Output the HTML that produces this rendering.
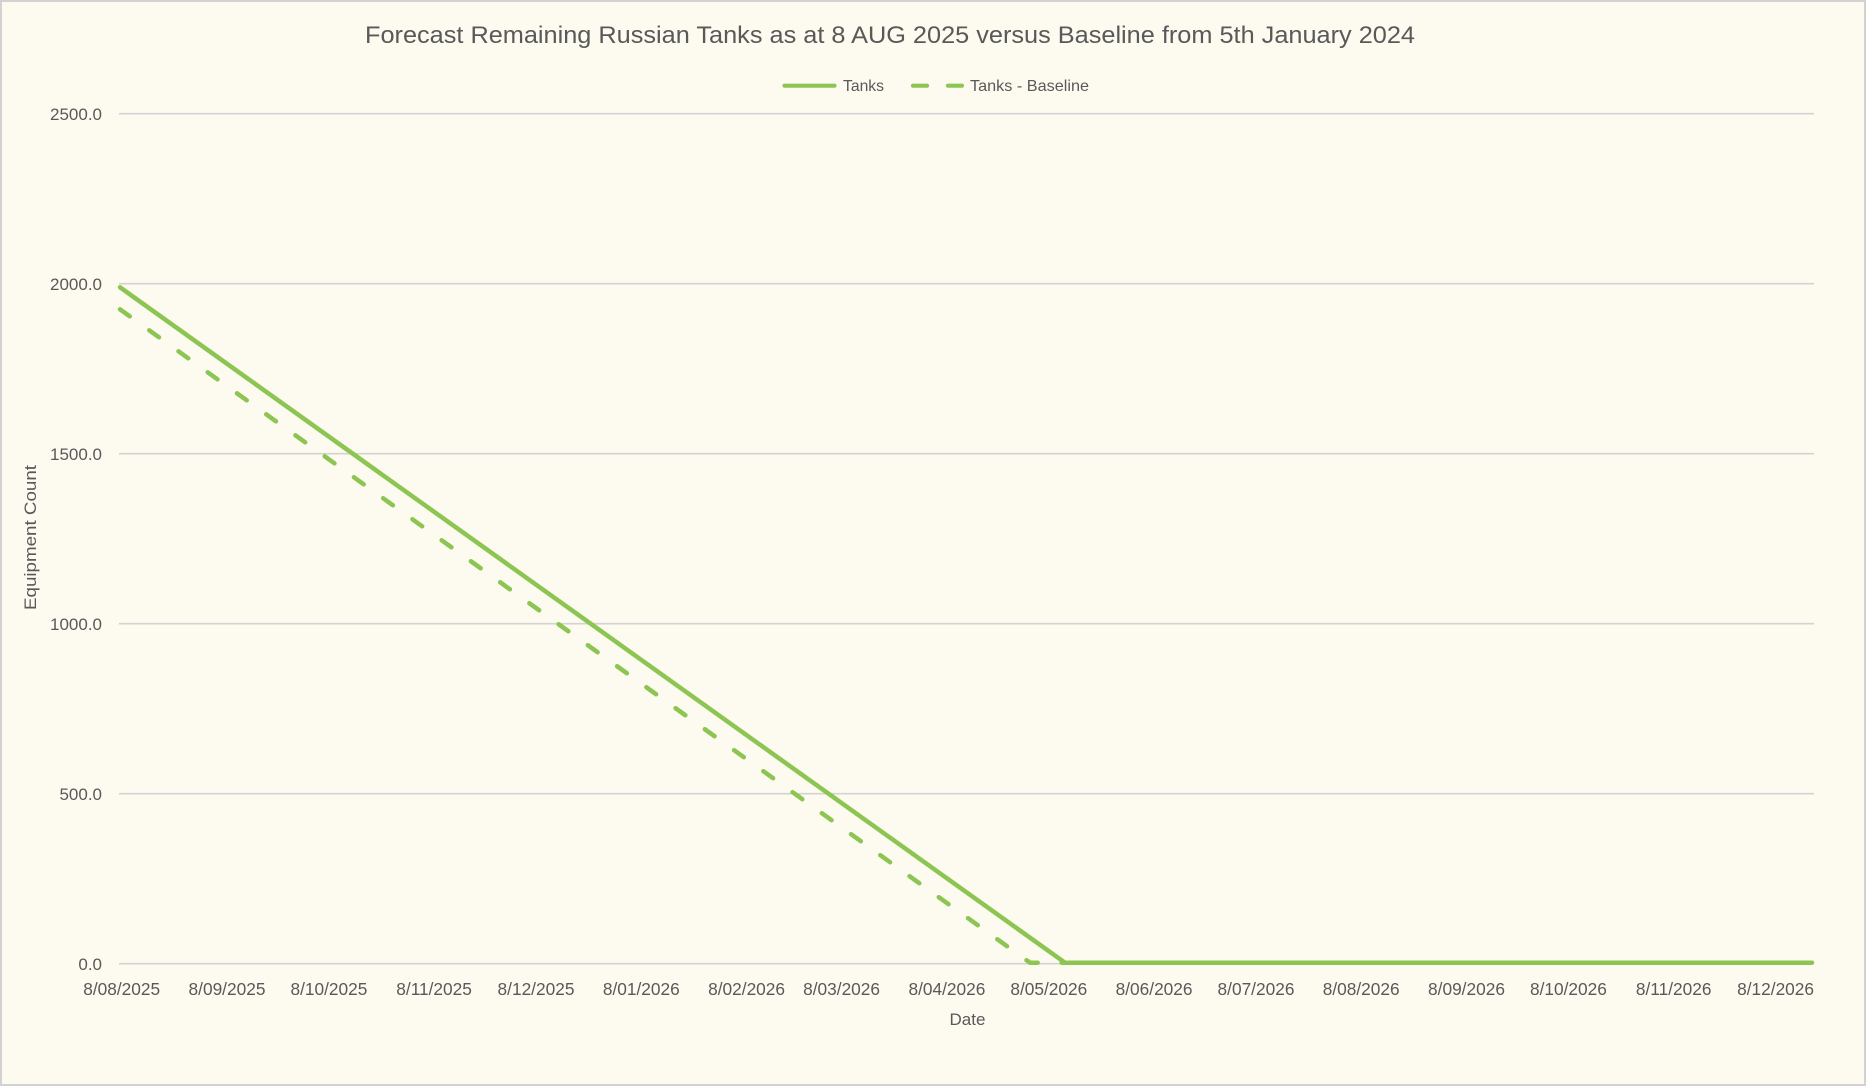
<!DOCTYPE html>
<html>
<head>
<meta charset="utf-8">
<style>
  html, body { margin: 0; padding: 0; background: #FDFAF0; }
  svg { display: block; }
  text { font-family: "Liberation Sans", Arial, sans-serif; fill: #595959; }
</style>
</head>
<body>
<svg width="1866" height="1086" viewBox="0 0 1866 1086" xmlns="http://www.w3.org/2000/svg">
  <rect x="0" y="0" width="1866" height="1086" fill="#FDFAF0"/>
  <rect x="1" y="1" width="1864" height="1084" fill="none" stroke="#D2D2D2" stroke-width="2"/>

  <!-- Title -->
  <text x="365" y="43" font-size="24" textLength="1050" lengthAdjust="spacingAndGlyphs">Forecast Remaining Russian Tanks as at 8 AUG 2025 versus Baseline from 5th January 2024</text>

  <!-- Legend -->
  <line x1="784.5" y1="85.7" x2="834.5" y2="85.7" stroke="#8DC553" stroke-width="4.2" stroke-linecap="round"/>
  <text x="843" y="91" font-size="16" textLength="41" lengthAdjust="spacingAndGlyphs">Tanks</text>
  <line x1="913" y1="85.7" x2="927" y2="85.7" stroke="#8DC553" stroke-width="4.2" stroke-linecap="round"/>
  <line x1="948" y1="85.7" x2="962" y2="85.7" stroke="#8DC553" stroke-width="4.2" stroke-linecap="round"/>
  <text x="970" y="91" font-size="16" textLength="119" lengthAdjust="spacingAndGlyphs">Tanks - Baseline</text>

  <!-- Gridlines -->
  <g stroke="#D3D3D3" stroke-width="1.6">
    <line x1="119" y1="113.7" x2="1814" y2="113.7"/>
    <line x1="119" y1="283.7" x2="1814" y2="283.7"/>
    <line x1="119" y1="453.7" x2="1814" y2="453.7"/>
    <line x1="119" y1="623.7" x2="1814" y2="623.7"/>
    <line x1="119" y1="793.7" x2="1814" y2="793.7"/>
    <line x1="119" y1="963.7" x2="1814" y2="963.7"/>
  </g>

  <!-- Y labels -->
  <g font-size="17" text-anchor="end">
    <text x="102" y="120">2500.0</text>
    <text x="102" y="290">2000.0</text>
    <text x="102" y="460">1500.0</text>
    <text x="102" y="630">1000.0</text>
    <text x="102" y="800">500.0</text>
    <text x="102" y="970">0.0</text>
  </g>

  <!-- Y axis title -->
  <text transform="translate(36,610) rotate(-90)" x="0" y="0" font-size="16.5" textLength="145" lengthAdjust="spacingAndGlyphs">Equipment Count</text>

  <!-- X labels -->
  <g font-size="17.3" text-anchor="middle">
    <text x="121.7" y="995">8/08/2025</text>
    <text x="227.0" y="995">8/09/2025</text>
    <text x="328.9" y="995">8/10/2025</text>
    <text x="434.1" y="995">8/11/2025</text>
    <text x="536.0" y="995">8/12/2025</text>
    <text x="641.3" y="995">8/01/2026</text>
    <text x="746.6" y="995">8/02/2026</text>
    <text x="841.6" y="995">8/03/2026</text>
    <text x="946.9" y="995">8/04/2026</text>
    <text x="1048.8" y="995">8/05/2026</text>
    <text x="1154.1" y="995">8/06/2026</text>
    <text x="1256.0" y="995">8/07/2026</text>
    <text x="1361.2" y="995">8/08/2026</text>
    <text x="1466.5" y="995">8/09/2026</text>
    <text x="1568.4" y="995">8/10/2026</text>
    <text x="1673.7" y="995">8/11/2026</text>
    <text x="1775.6" y="995">8/12/2026</text>
  </g>

  <!-- X axis title -->
  <text x="967.5" y="1025" font-size="17" text-anchor="middle">Date</text>

  <!-- Series -->
  <path d="M120,309.3 L1030,962.7 L1812,962.7" fill="none" stroke="#8DC553" stroke-width="4.5" stroke-linecap="round" stroke-linejoin="round" stroke-dasharray="12 24"/>
  <path d="M120,287.3 L1065,962.7 L1812,962.7" fill="none" stroke="#8DC553" stroke-width="4.5" stroke-linecap="round" stroke-linejoin="round"/>
</svg>
</body>
</html>
